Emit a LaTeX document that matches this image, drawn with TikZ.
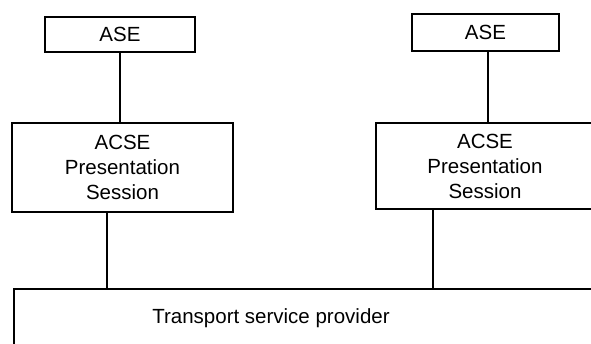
\documentclass[tikz,border=0pt]{standalone}
\usepackage{fontspec}
\setmainfont{Liberation Sans}
\begin{document}
\begin{tikzpicture}[x=1pt,y=-1pt,
  labelfont/.style={font=\fontsize{20.5}{25}\selectfont},
  layerbox/.style={draw=black,line width=2pt,inner sep=0pt,align=center,labelfont},
  link/.style={line width=1.8pt}]
\useasboundingbox (0,0) rectangle (591,343);
\clip (0,0) rectangle (591,343);
% application entities on top
\node[layerbox,minimum width=150pt,minimum height=35pt] (aseL) at (120,34.5) {ASE};
\node[layerbox,minimum width=147pt,minimum height=37pt] (aseR) at (485.5,32) {ASE};
% upper-layer stacks
\node[layerbox,minimum width=221pt,minimum height=89pt] (stackL) at (122.5,167.5)
  {ACSE\\Presentation\\Session};
\node[layerbox,minimum width=230pt,minimum height=86pt] (stackR) at (491,166)
  {};
\node[labelfont,align=center] (stackRtext) at (485,166) {ACSE\\Presentation\\Session};
% transport provider running off the page
\node[layerbox,minimum width=590pt,minimum height=80pt,anchor=north west] (tsp) at (13,288) {};
\node[labelfont] (tsplabel) at (271,318) {Transport service provider};
% connectors
\draw[link] (aseL.south) -- (aseL.south |- stackL.north);
\draw[link] (488,0 |- aseR.south) -- (488,0 |- stackR.north);
\draw[link] (107,0 |- stackL.south) -- (107,0 |- tsp.north);
\draw[link] (433,0 |- stackR.south) -- (433,0 |- tsp.north);
\end{tikzpicture}
\end{document}
